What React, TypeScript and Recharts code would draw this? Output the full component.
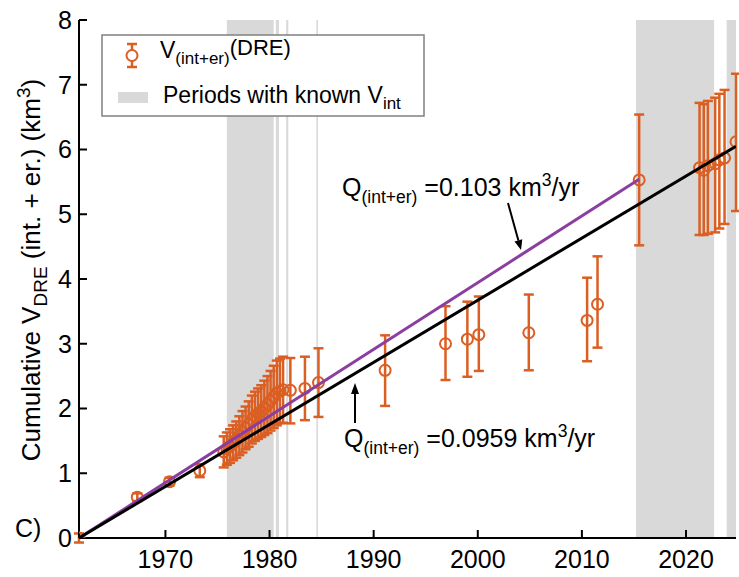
import React from "react";
import { ComposedChart, Scatter, ErrorBar, XAxis, YAxis, ReferenceArea } from "recharts";

// eruption epochs (decimal year) and cumulative DRE volume (km3) with error bounds
const years = [
  1961.7, 1967.3, 1970.4, 1973.3,
  1975.6, 1975.9, 1976.2, 1976.5, 1976.8, 1977.1, 1977.4, 1977.7, 1978.0, 1978.3,
  1978.6, 1978.9, 1979.2, 1979.5, 1979.8, 1980.1, 1980.4, 1980.7, 1981.0, 1981.3,
  1982.0, 1983.4, 1984.7,
  1991.1, 1996.9, 1999.0, 2000.1, 2004.9, 2010.5, 2011.5, 2015.5,
  2021.3, 2021.7, 2022.1, 2022.8, 2023.2, 2023.7, 2024.8,
];
const volumes = [
  0.0, 0.63, 0.87, 1.04,
  1.33, 1.38, 1.42, 1.47, 1.52, 1.58, 1.64, 1.7, 1.76, 1.83,
  1.88, 1.92, 1.96, 2.01, 2.06, 2.12, 2.18, 2.24, 2.27, 2.29,
  2.28, 2.31, 2.4,
  2.59, 3.0, 3.07, 3.14, 3.17, 3.36, 3.61, 5.53,
  5.72, 5.68, 5.75, 5.78, 5.84, 5.87, 6.12,
];
const lowerBounds = [
  -0.07, 0.57, 0.81, 0.94,
  1.09, 1.13, 1.16, 1.2, 1.24, 1.28, 1.32, 1.37, 1.41, 1.46,
  1.5, 1.53, 1.56, 1.59, 1.62, 1.66, 1.7, 1.74, 1.77, 1.78,
  1.77, 1.82, 1.87,
  2.04, 2.44, 2.49, 2.58, 2.59, 2.73, 2.94, 4.52,
  4.68, 4.68, 4.7, 4.72, 4.78, 4.85, 5.05,
];
const upperBounds = [
  0.07, 0.69, 0.93, 1.14,
  1.57, 1.63, 1.68, 1.74, 1.8, 1.88, 1.96, 2.03, 2.11, 2.2,
  2.26, 2.31, 2.36, 2.43, 2.5, 2.58, 2.66, 2.74, 2.77, 2.8,
  2.78, 2.8, 2.93,
  3.13, 3.58, 3.65, 3.73, 3.76, 4.02, 4.35, 6.54,
  6.72, 6.7, 6.75, 6.8, 6.86, 6.92, 7.17,
];

// periods with known intrusive volume
const knownPeriods = [
  [1975.9, 1980.4],
  [1980.6, 1980.9],
  [1981.6, 1981.8],
  [1984.5, 1984.65],
  [2015.2, 2022.7],
  [2023.9, 2024.8],
];

const startYear = 1961.7;
const endYear = 2024.8;
const fitEnd2015 = 2015.5;
const rateAll = 0.0959; // km3/yr
const rateTo2015 = 0.103; // km3/yr

const xTicks = [1970, 1980, 1990, 2000, 2010, 2020];
const yTicks = [0, 1, 2, 3, 4, 5, 6, 7, 8];

const ORANGE = "#DB5E22";
const PURPLE = "#8B3E9F";
const GRAY = "#d9d9d9";
const FONT = "'Liberation Sans', Arial, sans-serif";

const points = years.map((x, i) => ({
  x,
  y: volumes[i],
  err: [volumes[i] - lowerBounds[i], upperBounds[i] - volumes[i]],
}));

const purpleFit = [
  { x: startYear, y: 0 },
  { x: fitEnd2015, y: rateTo2015 * (fitEnd2015 - startYear) },
];
const blackFit = [
  { x: startYear, y: 0 },
  { x: endYear, y: rateAll * (endYear - startYear) },
];

const HollowCircle = (props: any) => {
  const { cx, cy } = props;
  if (cx == null || cy == null) return <g />;
  return <circle cx={cx} cy={cy} r={5.5} fill="none" stroke={ORANGE} strokeWidth={2} />;
};

const Nothing = () => <g />;

export default function App() {
  return (
    <div style={{ position: "absolute", left: 0, top: 0, width: 739, height: 577, background: "#fff" }}>
      <ComposedChart width={739} height={577} margin={{ top: 20, right: 3, left: 19, bottom: 9 }}>
        <XAxis
          dataKey="x"
          type="number"
          domain={[startYear, endYear]}
          ticks={xTicks}
          interval={0}
          allowDataOverflow
          height={30}
          stroke="#000"
          strokeWidth={2}
          tickSize={-8}
          tickMargin={20}
          tick={{ fill: "#000", fontSize: 25, fontFamily: FONT }}
        />
        <XAxis
          xAxisId="top"
          orientation="top"
          dataKey="x"
          type="number"
          domain={[startYear, endYear]}
          ticks={xTicks}
          interval={0}
          allowDataOverflow
          height={0}
          stroke="#000"
          strokeWidth={2}
          tickSize={-8}
          tick={false}
        />
        <YAxis
          type="number"
          domain={[0, 8]}
          ticks={yTicks}
          interval={0}
          allowDataOverflow
          width={60}
          stroke="#000"
          strokeWidth={2}
          tickSize={-8}
          tickMargin={15}
          tick={{ fill: "#000", fontSize: 25, fontFamily: FONT }}
        />
        <YAxis
          yAxisId="right"
          orientation="right"
          type="number"
          domain={[0, 8]}
          ticks={yTicks}
          interval={0}
          allowDataOverflow
          width={0}
          stroke="#000"
          strokeWidth={2}
          tickSize={-8}
          tick={false}
        />
        {knownPeriods.map(([a, b], i) => (
          <ReferenceArea key={i} x1={a} x2={b} fill={GRAY} fillOpacity={1} stroke="none" />
        ))}
        <Scatter data={points} dataKey="y" shape={HollowCircle} isAnimationActive={false}>
          <ErrorBar dataKey="err" direction="y" width={5} strokeWidth={2.5} stroke={ORANGE} />
        </Scatter>
        <Scatter
          data={purpleFit}
          dataKey="y"
          line={{ stroke: PURPLE, strokeWidth: 3 }}
          shape={Nothing}
          isAnimationActive={false}
        />
        <Scatter
          data={blackFit}
          dataKey="y"
          line={{ stroke: "#000", strokeWidth: 3 }}
          shape={Nothing}
          isAnimationActive={false}
        />
      </ComposedChart>

      <svg
        width={739}
        height={577}
        style={{ position: "absolute", left: 0, top: 0, pointerEvents: "none" }}
        fontFamily={FONT}
      >
        {/* legend */}
        <rect x={102} y={35} width={322} height={81} fill="#fff" stroke="#808080" strokeWidth={1.5} />
        <line x1={132} y1={44} x2={132} y2={67} stroke={ORANGE} strokeWidth={2.5} />
        <line x1={127} y1={44} x2={137} y2={44} stroke={ORANGE} strokeWidth={2.5} />
        <line x1={127} y1={67} x2={137} y2={67} stroke={ORANGE} strokeWidth={2.5} />
        <circle cx={132} cy={55.5} r={5.5} fill="#fff" stroke={ORANGE} strokeWidth={2} />
        <text x={160} y={58} fontSize={23} fill="#000">
          V<tspan fontSize={17} dy={6}>(int+er)</tspan>
          <tspan fontSize={22} dy={-9}>(DRE)</tspan>
        </text>
        <rect x={118} y={92} width={30} height={11} fill={GRAY} />
        <text x={163} y={103} fontSize={23} fill="#000">
          Periods with known V<tspan fontSize={17} dy={6}>int</tspan>
        </text>

        {/* fit annotations */}
        <text x={342} y={196} fontSize={25} fill="#000">
          Q<tspan fontSize={17.5} dy={7}>(int+er)</tspan>
          <tspan dy={-7}> =0.103 km</tspan>
          <tspan fontSize={17.5} dy={-10}>3</tspan>
          <tspan dy={10}>/yr</tspan>
        </text>
        <line x1={508} y1={203} x2={518.4} y2={240.4} stroke="#000" strokeWidth={2} />
        <polygon points="521,250 522.3,239.3 514.5,241.4" fill="#000" />

        <text x={344} y={447} fontSize={25} fill="#000">
          Q<tspan fontSize={17.5} dy={7}>(int+er)</tspan>
          <tspan dy={-7}> =0.0959 km</tspan>
          <tspan fontSize={17.5} dy={-10}>3</tspan>
          <tspan dy={10}>/yr</tspan>
        </text>
        <line x1={355} y1={423} x2={355} y2={393} stroke="#000" strokeWidth={2} />
        <polygon points="355,383 351,394 359,394" fill="#000" />

        {/* axis title and panel letter */}
        <text transform="translate(40,270) rotate(-90)" textAnchor="middle" fontSize={26} fill="#000">
          Cumulative V<tspan fontSize={19} dy={7}>DRE</tspan>
          <tspan dy={-7}> (int. + er.) (km</tspan>
          <tspan fontSize={19} dy={-10}>3</tspan>
          <tspan dy={10}>)</tspan>
        </text>
        <text x={15} y={537} fontSize={25} fill="#000">
          C)
        </text>
      </svg>
    </div>
  );
}
